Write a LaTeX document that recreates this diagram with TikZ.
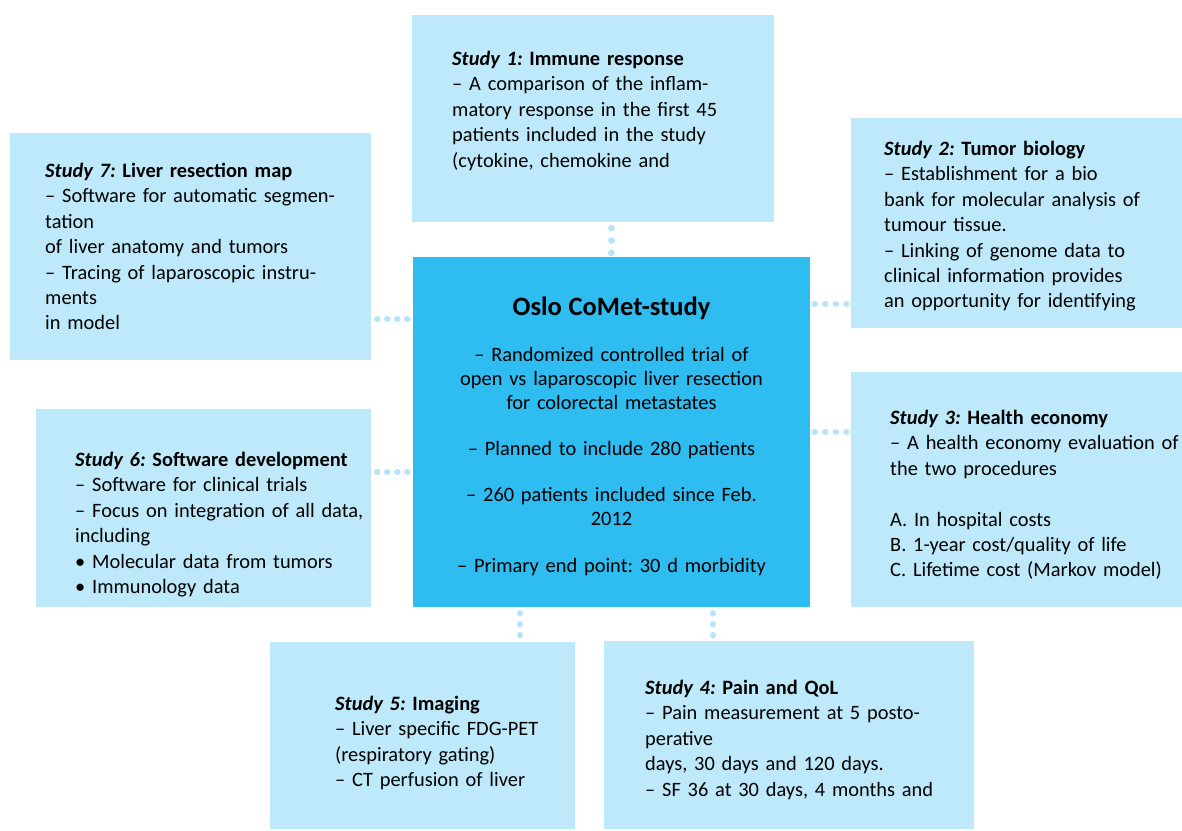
\documentclass[tikz,border=0pt]{standalone}
\usepackage{fontspec}
\setmainfont{Carlito}
\frenchspacing
\begin{document}
\begin{tikzpicture}[x=1pt,y=-1pt]

% colours of the boxes and of the dotted links
\definecolor{lightbox}{RGB}{189,233,250}
\definecolor{mainbox}{RGB}{47,188,240}
\definecolor{dotblue}{RGB}{182,228,248}
% line distance inside the boxes
\def\ls{25.4pt}
% node style definition
\tikzstyle{study} = [rectangle, fill=lightbox, inner sep=0pt];
\tikzstyle{comet} = [rectangle, fill=mainbox, inner sep=0pt];
\tikzstyle{txt} = [anchor=base west, inner sep=0pt, align=left,
	text width=340pt, font=\fontsize{20.4}{\ls}\selectfont];
\tikzstyle{dots} = [draw=dotblue, line width=6.5pt, line cap=round];

\useasboundingbox (0,0) rectangle (1182,830);

% boxes
\node[comet, minimum width=397, minimum height=350] (comet) at (611.5,432) {};
\node[study, minimum width=362, minimum height=207] (s1) at (593,118.5) {};
\node[study, minimum width=331, minimum height=210] (s2) at (1016.5,223) {};
\node[study, minimum width=331, minimum height=235] (s3) at (1016.5,489.5) {};
\node[study, minimum width=370, minimum height=188] (s4) at (789,735) {};
\node[study, minimum width=305, minimum height=187] (s5) at (422.5,735.5) {};
\node[study, minimum width=335, minimum height=198] (s6) at (203.5,508) {};
\node[study, minimum width=361, minimum height=227] (s7) at (190.5,246.5) {};

% texts
\node[txt, anchor=base, align=center, text width=395pt,
	font=\fontsize{20.4}{24}\selectfont] (ctxt) at (611.5,315.5) {%
	{\fontsize{26.5}{30}\selectfont\textbf{Oslo CoMet-study}}\\[22pt]
	-- Randomized controlled trial of\\
	open vs laparoscopic liver resection\\
	for colorectal metastates\\[22pt]
	-- Planned to include 280 patients\\[22pt]
	-- 260 patients included since Feb.\\
	2012\\[23pt]
	-- Primary end point: 30 d morbidity};

\node[txt] (t1) at (452,65.5) {%
	\textbf{\textit{Study 1:} Immune response}\\
	-- A comparison of the inflam-\\
	matory response in the first 45\\
	patients included in the study\\
	(cytokine, chemokine and};

\node[txt] (t2) at (884,155.5) {%
	\textbf{\textit{Study 2:} Tumor biology}\\
	-- Establishment for a bio\\
	bank for molecular analysis of\\
	tumour tissue.\\
	-- Linking of genome data to\\
	clinical information provides\\
	an opportunity for identifying};

\node[txt] (t3) at (890,424.5) {%
	\textbf{\textit{Study 3:} Health economy}\\
	-- A health economy evaluation of\\
	the two procedures\\[\ls]
	A. In hospital costs\\
	B. 1-year cost/quality of life\\
	C. Lifetime cost (Markov model)};

\node[txt] (t4) at (645,694.5) {%
	\textbf{\textit{Study 4:} Pain and QoL}\\
	-- Pain measurement at 5 posto-\\
	perative\\
	days, 30 days and 120 days.\\
	-- SF 36 at 30 days, 4 months and};

\node[txt] (t5) at (335,710.5) {%
	\textbf{\textit{Study 5:} Imaging}\\
	-- Liver specific FDG-PET\\
	(respiratory gating)\\
	-- CT perfusion of liver};

\node[txt] (t6) at (75,466.5) {%
	\textbf{\textit{Study 6:} Software development}\\
	-- Software for clinical trials\\
	-- Focus on integration of all data,\\
	including\\
	\textbullet{} Molecular data from tumors\\
	\textbullet{} Immunology data};

\node[txt] (t7) at (45,177.5) {%
	\textbf{\textit{Study 7:} Liver resection map}\\
	-- Software for automatic segmen-\\
	tation\\
	of liver anatomy and tumors\\
	-- Tracing of laparoscopic instru-\\
	ments\\
	in model};

% dotted links to the main study
\draw[dots, dash pattern=on 0.1pt off 12.2pt, shorten <=6, shorten >=1]
	(s1.south -| comet.north) -- (comet.north);
\draw[dots, dash pattern=on 0.1pt off 10.4pt, shorten <=4.5, shorten >=2.5]
	(comet.east |- 0,304) -- (s2.west |- 0,304);
\draw[dots, dash pattern=on 0.1pt off 10.4pt, shorten <=4.5, shorten >=2.5]
	(comet.east) -- (comet.east -| s3.west);
\draw[dots, dash pattern=on 0.1pt off 10.9pt, shorten <=6, shorten >=3]
	(comet.south -| 713,0) -- (s4.north -| 713,0);
\draw[dots, dash pattern=on 0.1pt off 10.9pt, shorten <=6, shorten >=3]
	(comet.south -| 520,0) -- (s5.north -| 520,0);
\draw[dots, dash pattern=on 0.1pt off 9.9pt, shorten <=6, shorten >=3]
	(s6.east |- 0,472) -- (comet.west |- 0,472);
\draw[dots, dash pattern=on 0.1pt off 9.9pt, shorten <=6, shorten >=3]
	(s7.east |- 0,319) -- (comet.west |- 0,319);

\end{tikzpicture}
\end{document}
